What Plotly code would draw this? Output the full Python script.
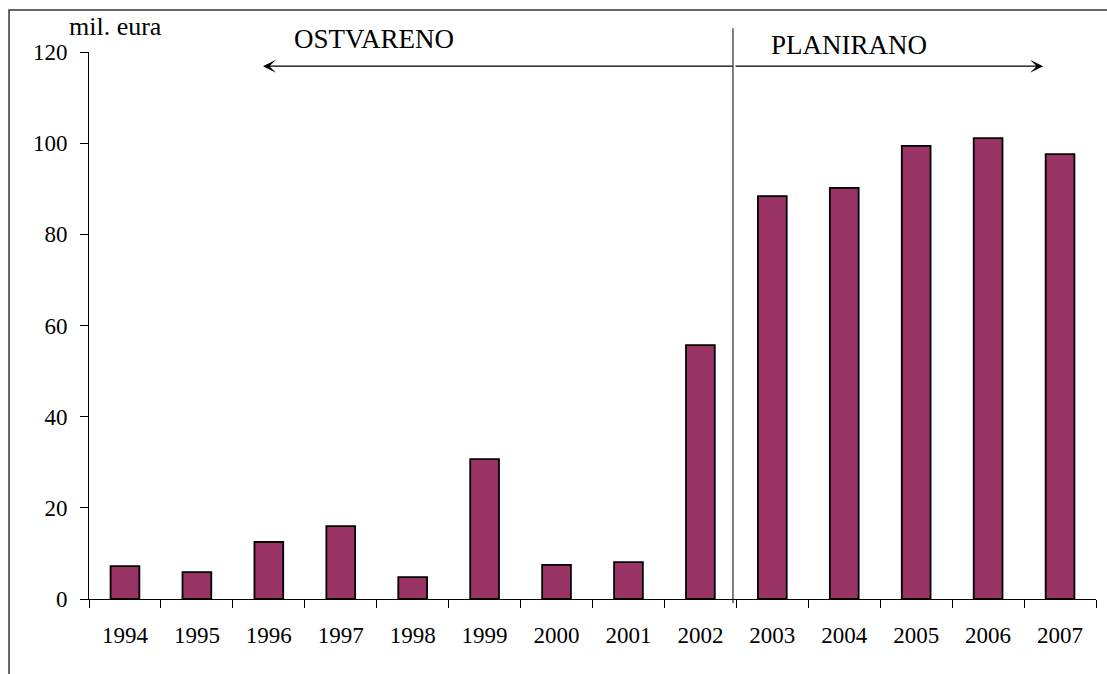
import plotly.graph_objects as go

years = ["1994", "1995", "1996", "1997", "1998", "1999", "2000",
         "2001", "2002", "2003", "2004", "2005", "2006", "2007"]
values = [7.2, 5.9, 12.5, 16.0, 4.8, 30.7, 7.5, 8.1, 55.7, 88.4, 90.2, 99.4, 101.1, 97.6]
y_ticks = [0, 20, 40, 60, 80, 100, 120]

FONT = "Liberation Serif, Times New Roman, serif"

fig = go.Figure()
fig.add_trace(go.Bar(
    x=years, y=values,
    marker=dict(color="#993366", line=dict(color="black", width=1.8)),
    hoverinfo="x+y",
))

fig.update_layout(
    width=1107, height=674,
    margin=dict(l=89, r=11, t=52, b=75),
    paper_bgcolor="white", plot_bgcolor="white",
    bargap=0.6,
    showlegend=False,
    font=dict(family=FONT, size=23, color="black"),
    xaxis=dict(
        type="category",
        showline=True, linecolor="black", linewidth=1,
        ticks="outside", tickson="boundaries", ticklen=8, tickcolor="black", tickwidth=1,
        showgrid=False, zeroline=False,
        tickfont=dict(family=FONT, size=23, color="black"),
        ticklabelstandoff=15,
    ),
    yaxis=dict(
        range=[0, 120], tickvals=y_ticks,
        showline=True, linecolor="black", linewidth=1,
        ticks="outside", ticklen=8, tickcolor="black", tickwidth=1,
        showgrid=False, zeroline=False,
        tickfont=dict(family=FONT, size=23, color="black"),
        ticklabelstandoff=8,
    ),
)

# outer frame (right and bottom edges fall outside the picture)
fig.add_shape(type="rect", xref="paper", yref="paper",
              x0=-0.0794, x1=1.05, y0=-0.3, y1=1.0768,
              line=dict(color="#333333", width=1.5), layer="below")

# divider between realised and planned
fig.add_shape(type="line", xref="paper", yref="paper",
              x0=0.6395, x1=0.6395, y0=-0.0075, y1=1.0435,
              line=dict(color="black", width=1))

# double arrow (tails meet at the divider)
arrow_y = 0.974
fig.add_annotation(xref="paper", yref="paper", axref="pixel", ayref="pixel",
                   x=0.1728, y=arrow_y, ax=471, ay=0, text="",
                   showarrow=True, arrowhead=3, arrowsize=1.8, arrowwidth=1.2,
                   arrowcolor="black", standoff=0, startstandoff=0)
fig.add_annotation(xref="paper", yref="paper", axref="pixel", ayref="pixel",
                   x=0.9474, y=arrow_y, ax=-309, ay=0, text="",
                   showarrow=True, arrowhead=3, arrowsize=1.8, arrowwidth=1.2,
                   arrowcolor="black", standoff=0, startstandoff=0)

fig.add_annotation(xref="paper", yref="paper", x=0.283, y=1.024,
                   xanchor="center", yanchor="middle",
                   text="OSTVARENO", showarrow=False,
                   font=dict(family=FONT, size=27, color="black"))
fig.add_annotation(xref="paper", yref="paper", x=0.755, y=1.013,
                   xanchor="center", yanchor="middle",
                   text="PLANIRANO", showarrow=False,
                   font=dict(family=FONT, size=27, color="black"))
fig.add_annotation(xref="paper", yref="paper", x=0.0263, y=1.046,
                   xanchor="center", yanchor="middle",
                   text="mil. eura", showarrow=False,
                   font=dict(family=FONT, size=26, color="black"))

fig.write_html("out.html", config={"displayModeBar": False},
               post_script="document.body.style.margin='0';")
